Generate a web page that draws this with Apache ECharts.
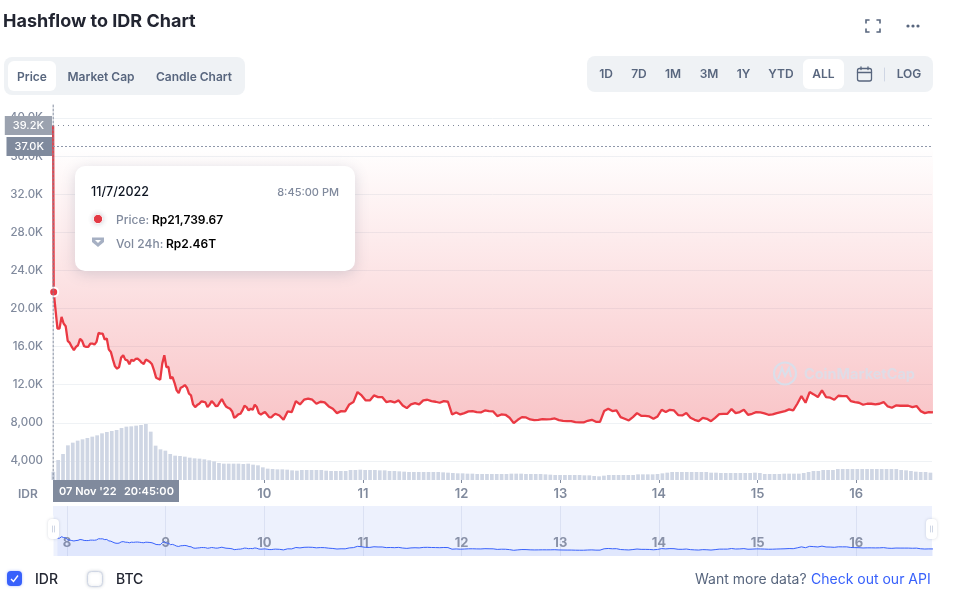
<!DOCTYPE html>
<html><head><meta charset="utf-8">
<style>html,body{margin:0;padding:0;background:#fff}#c{width:962px;height:611px}</style>
<script src="https://cdn.jsdelivr.net/npm/echarts@6/dist/echarts.min.js"></script>
</head><body><div id="c"></div>
<script>
var highLabel = 39200, lowLabel = 37000;
var cursorPrice = 21739.67;
// half-hourly prices for the first stretch (IDR)
var earlyPrices = [17895,17895,19124,18422,18141,16597,16386,15965,15615,15965,16141,16808,16597,16036,15965,15965,16316,16316,16211,16492,17439,17369,17369,16737,16843,15685,15439,14632,13930,13685,13860,14843,15088,14632,14562,14141,14632,14492,14702,14737,14562,14316,14176,14632,14527,14386,14141,13509,12737,12632,12527,14211,15088,13860,13860,12632,12807,12176,11404,11123,11684,11790,11965,11684,11053,10877,9930,9649,9860,10000,10246,10211,10141,9649,9895,10281,10070,9755,9790,10176,10491,10070,9719,9579,9474,9193,8526,8667,8877,8947,9298,9790,9649,9298,9474,9368,9895,9649,9018,8877,9018,9123,8877,8597,8561,8772];
// hourly prices after that (IDR)
var laterPrices = [8947,8772,8316,9193,9123,10281,9930,10421,10526,10421,10000,10210,10140,9719,9474,9018,9228,9193,9930,10175,11228,10877,10351,10351,10877,10702,10702,10175,10281,10140,10351,9825,9544,9930,10070,9930,10351,10421,10281,10210,10105,10281,10210,8877,9088,8877,9018,9193,9228,9123,9088,9298,9228,9193,8702,8877,8842,8526,7965,8316,8596,8561,8351,8281,8316,8386,8351,8386,8456,8281,8211,8175,8175,8070,8035,8035,8211,8316,8105,8105,9228,9474,9228,9298,8596,8421,8246,8596,9018,8737,8737,8667,8421,8667,9368,9123,9368,9298,8807,8772,9018,8526,8316,8175,8526,8421,8175,8526,8912,8947,8947,9439,9018,9123,9368,8842,8947,9123,9088,8982,8842,8877,9018,9123,9228,9404,9298,10000,10807,10105,11228,10982,10702,11404,10702,10632,10421,10842,10807,10807,10281,10175,10105,9895,10000,10000,9930,10000,10175,9719,9579,9825,9790,9790,9790,9649,9754,9228,9018,9123,9088];
// 24h volume (trillion IDR)
var volumeValues = [2.46,6.0,7.8,10.4,11.2,11.8,12.2,12.6,13.0,13.4,14.0,14.4,14.7,15.0,15.6,16.0,16.1,16.3,16.5,16.8,14.5,10.3,9.2,8.8,7.8,7.3,7.2,7.0,6.7,6.5,6.4,6.2,5.9,5.6,5.1,4.9,4.9,4.9,4.9,4.8,4.9,4.6,4.4,3.8,3.4,3.3,3.2,3.2,3.1,2.9,2.8,3.0,3.0,3.0,3.0,3.0,2.8,2.7,2.7,2.7,2.7,3.0,3.0,3.1,3.0,3.0,3.0,2.9,2.9,2.7,2.7,2.6,2.5,2.4,2.4,2.4,2.4,2.4,2.4,2.4,2.3,2.2,2.1,2.0,2.0,1.9,1.9,1.8,1.8,1.8,1.8,1.8,1.8,1.8,1.9,1.9,1.9,1.8,1.8,1.8,1.8,1.7,1.6,1.5,1.5,1.5,1.5,1.5,1.5,1.4,1.4,1.2,1.1,1.3,1.5,1.5,1.5,1.5,1.5,1.5,1.7,1.7,1.7,1.7,1.8,2.0,2.2,2.4,2.4,2.4,2.4,2.4,2.4,2.4,2.4,2.2,2.2,2.1,2.1,2.1,2.1,2.1,2.1,2.1,2.2,2.1,1.8,1.8,1.8,1.8,1.9,1.9,1.9,1.9,2.1,2.4,2.7,2.7,3.0,3.0,3.0,3.3,3.3,3.3,3.3,3.3,3.3,3.3,3.3,3.3,3.3,3.3,3.3,3.3,3.0,2.9,2.7,2.5,2.4,2.4,2.2];
var tabLabels = ['Price','Market Cap','Candle Chart'];
var rangeLabels = ['1D','7D','1M','3M','1Y','YTD','ALL','LOG'];

var MIN = 60000, HOUR = 3600000;
var axisMin = new Date(2022,10,7,20,35).getTime();
var axisMax = new Date(2022,10,16,18,26).getTime();
var cursorTime = new Date(2022,10,7,20,45).getTime();
var spikeTime = new Date(2022,10,7,20,37).getTime();
var hourBase = new Date(2022,10,7,20,40).getTime();
var volumeStep = 71.5*MIN;

var earlyPts = earlyPrices.map(function(v,i){return [hourBase+(i+2)*HOUR/2,v];});
var laterPts = laterPrices.map(function(v,i){return [hourBase+(i+54)*HOUR,v];});
var hourlyPrice = earlyPts.concat(laterPts);
var pricePts = [[spikeTime,highLabel],[cursorTime,cursorPrice]].concat(hourlyPrice);
var volumeTimes = volumeValues.map(function(v,i){return hourBase+i*volumeStep;});

var GRAY='#808a9d', FONT='Inter, "Noto Sans", sans-serif';
function dayLabel(v){return String(new Date(v).getDate());}
function priceLabel(v){
  if(v===0) return '';
  if(v<10000) return v.toLocaleString('en-US');
  return (v/1000).toFixed(1)+'K';
}
var opt = {
  animation:false,
  backgroundColor:'#fff',
  textStyle:{fontFamily:FONT},
  grid:[
    {left:53,right:30,top:118,height:381},
    {left:50.85,width:882,top:400,height:80},
    {left:53,right:30,top:506,height:50,show:true,backgroundColor:'#edf1fd',borderWidth:0}
  ],
  xAxis:[
    {type:'time',gridIndex:0,min:axisMin,max:axisMax,offset:-19,minInterval:24*HOUR,maxInterval:24*HOUR,
      axisLine:{show:false},axisTick:{show:true,length:3,lineStyle:{color:GRAY}},splitLine:{show:false},
      axisLabel:{formatter:dayLabel,color:GRAY,fontSize:13,fontWeight:600,fontFamily:FONT,margin:8,showMinLabel:false,showMaxLabel:false}},
    {type:'category',gridIndex:1,data:volumeTimes,boundaryGap:true,show:false},
    {type:'time',gridIndex:2,min:axisMin,max:axisMax,minInterval:24*HOUR,maxInterval:24*HOUR,
      axisLine:{show:false},axisTick:{show:false},splitLine:{show:true,showMinLine:false,showMaxLine:false,lineStyle:{color:'#dbe1f3',width:1}},
      axisLabel:{inside:true,formatter:dayLabel,color:'#8a92a8',fontSize:13,fontWeight:700,fontFamily:FONT,margin:6,showMinLabel:false,showMaxLabel:false}}
  ],
  yAxis:[
    {type:'value',gridIndex:0,min:0,max:40000,interval:4000,axisLine:{show:false},axisTick:{show:false},
      splitLine:{show:true,showMinLine:false,lineStyle:{color:'#eff2f5',width:1}},
      axisLabel:{formatter:priceLabel,color:GRAY,fontSize:11.5,fontWeight:500,fontFamily:FONT,margin:10}},
    {type:'value',gridIndex:1,min:0,max:24,show:false},
    {type:'value',gridIndex:2,min:3300,max:44300,show:false}
  ],
  series:[
    {type:'bar',xAxisIndex:1,yAxisIndex:1,data:volumeValues,barWidth:3.7,itemStyle:{color:'#cfd6e4'},silent:true},
    {type:'line',xAxisIndex:0,yAxisIndex:0,data:pricePts,showSymbol:false,symbol:'none',smooth:false,
      lineStyle:{color:'#ea3943',width:2.3},
      areaStyle:{origin:'end',color:{type:'linear',x:0,y:145,x2:0,y2:422,global:true,
        colorStops:[{offset:0,color:'rgba(234,57,67,0)'},{offset:1,color:'rgba(234,57,67,0.42)'}]}},
      markLine:{silent:true,symbol:'none',animation:false,data:[
        {yAxis:highLabel,lineStyle:{type:[1,4],color:'#7f8799',width:1},
          label:{position:'start',formatter:'39.2K',color:'#fff',backgroundColor:'#9ba2af',padding:[4,8,4,8],fontSize:11,fontWeight:500,fontFamily:FONT,distance:1}},
        {yAxis:lowLabel,lineStyle:{type:[2,2],color:'#8f97aa',width:1},
          label:{position:'start',formatter:'37.0K',color:'#fff',backgroundColor:'#7f8a9d',padding:[4,8,4,8],fontSize:11,fontWeight:500,fontFamily:FONT,distance:1}}
      ]},
      markPoint:{silent:true,animation:false,symbol:'circle',symbolSize:9,
        itemStyle:{color:'#ea3943',borderColor:'#fff',borderWidth:2},label:{show:false},
        data:[{coord:[cursorTime,cursorPrice]}]}
    },
    {type:'line',xAxisIndex:2,yAxisIndex:2,data:hourlyPrice,showSymbol:false,symbol:'none',
      lineStyle:{color:'#3861fb',width:1},areaStyle:{color:'rgba(56,97,251,0.1)'}}
  ]
};
var chart = echarts.init(document.getElementById('c'),null,{renderer:'canvas'});
chart.setOption(opt);

// ---- chrome ----
var g=[];
function T(s,x,y,size,weight,fill,align){g.push({type:'text',z:100,silent:true,style:{text:s,x:x,y:y,font:weight+' '+size+'px '+FONT,fill:fill,textAlign:align||'left',textVerticalAlign:'middle'}});}
function R(x,y,w,h,r,fill,extra){var st={fill:fill};for(var k in (extra||{}))st[k]=extra[k];g.push({type:'rect',z:100,silent:true,shape:{x:x,y:y,width:w,height:h,r:r},style:st});}
function L(x1,y1,x2,y2,c,w,dash){g.push({type:'line',z:100,silent:true,shape:{x1:x1,y1:y1,x2:x2,y2:y2},style:{stroke:c,lineWidth:w||1,lineDash:dash||null,lineCap:'round'}});}

T('Hashflow to IDR Chart',3,21.5,18,700,'#222531');
// fullscreen icon
[[866,23,866,20,869,20],[877,20,880,20,880,23],[880,29,880,32,877,32],[869,32,866,32,866,29]].forEach(function(p){
  g.push({type:'polyline',z:100,silent:true,shape:{points:[[p[0],p[1]],[p[2],p[3]],[p[4],p[5]]]},style:{stroke:'#58667e',lineWidth:1.6,fill:null,lineCap:'round'}});
});
[908,913,918].forEach(function(x){g.push({type:'circle',z:100,silent:true,shape:{cx:x,cy:26,r:1.6},style:{fill:'#58667e'}});});

// tabs
R(4,57,241,38,8,'#eff2f5');
R(8,61,48,30,6,'#fff');
var tabX=[32,101,194];
tabLabels.forEach(function(s,i){T(s,tabX[i],77,12,600,'#58667e','center');});

// range buttons
R(587,56,346,36,8,'#eff2f5');
R(803,59,41,30,6,'#fff');
var rangeX=[606,639,673,709,743.5,781,823.5,909];
rangeLabels.forEach(function(s,i){T(s,rangeX[i],74.5,12,600,'#58667e','center');});
g.push({type:'rect',z:100,silent:true,shape:{x:857.5,y:68.5,width:14,height:12.5,r:2},style:{fill:null,stroke:'#58667e',lineWidth:1.3}});
L(857.5,72.5,871.5,72.5,'#58667e',1.3);L(861,67,861,69.5,'#58667e',1.3);L(868,67,868,69.5,'#58667e',1.3);
L(884.5,68,884.5,81,'#cfd6e4',1);

// cursor
var cx = chart.convertToPixel({xAxisIndex:0},cursorTime)-0.5;
L(cx,105,cx,480,GRAY,1,[2,2]);

// tooltip
R(75,166,280,105,10,'#fff',{shadowBlur:14,shadowColor:'rgba(88,102,126,0.22)',shadowOffsetY:3});
T('11/7/2022',91,192.5,12.5,500,'#0d1421');
T('8:45:00 PM',339,192.5,11,500,GRAY,'right');
g.push({type:'circle',z:100,silent:true,shape:{cx:98,cy:219,r:4.7},style:{fill:'#ea3943',stroke:'#fff',lineWidth:1,shadowBlur:5,shadowColor:'rgba(88,102,126,0.3)'}});
T('Price:',116,220,12,500,GRAY);
T('Rp21,739.67',152,220,12,600,'#000');
g.push({type:'polygon',z:100,silent:true,shape:{points:[[92,237.5],[104,237.5],[104,242],[98,247],[92,242]]},style:{fill:'#a6b0c3'}});
g.push({type:'polygon',z:100,silent:true,shape:{points:[[95,240],[101,240],[98,243]]},style:{fill:'#fff'}});
T('Vol 24h:',116,244,12,500,GRAY);
T('Rp2.46T',166,244,12,600,'#000');

// axis labels / pill
T('IDR',18,494.5,12,600,GRAY);
R(53,480,126,22,0,GRAY);
T("07 Nov '22",59,491.5,11,600,'#fff');
T('20:45:00',124,491.5,11,600,'#fff');

// navigator handles
L(53,516,53,556,'#fff',1);
function handle(x){
  R(x,519,11,20,4,'#fff',{shadowBlur:3,shadowColor:'rgba(88,102,126,0.25)'});
  L(x+4.5,526,x+4.5,532,'#cfd6e4',1);L(x+6.5,526,x+6.5,532,'#cfd6e4',1);
}
handle(48);handle(926);

// watermark
g.push({type:'circle',z:100,silent:true,shape:{cx:785,cy:373.5,r:11},style:{fill:null,stroke:'rgba(214,224,236,0.9)',lineWidth:2.2}});
g.push({type:'polyline',z:100,silent:true,shape:{points:[[778,379],[782,368],[785,376],[789,368],[791,377]]},style:{stroke:'rgba(214,224,236,0.9)',lineWidth:2,fill:null}});
T('CoinMarketCap',804,374.5,14.5,700,'rgba(214,224,236,0.75)');

// bottom
R(7,571,15,15,4,'#3861fb',{shadowBlur:3,shadowColor:'rgba(56,97,251,0.4)'});
g.push({type:'polyline',z:100,silent:true,shape:{points:[[11,579],[13.5,581.5],[18,575.5]]},style:{stroke:'#fff',lineWidth:1.4,fill:null}});
T('IDR',35,579.5,14,500,'#222531');
R(87.5,571.5,15,15,4,'#fff',{stroke:'#cfd6e4',lineWidth:1,shadowBlur:3,shadowColor:'rgba(88,102,126,0.25)'});
T('BTC',116,579.5,14,500,'#222531');
T('Want more data?',695,579.5,14,400,'#58667e');
T('Check out our API',811,579.5,14,400,'#3861fb');

chart.setOption({graphic:{elements:g}});
</script></body></html>
